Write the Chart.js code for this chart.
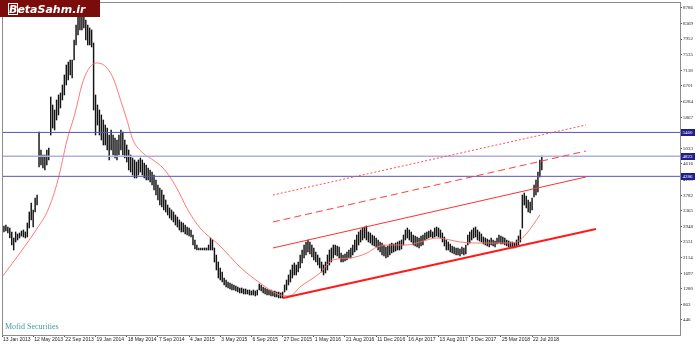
<!DOCTYPE html>
<html><head><meta charset="utf-8">
<script src="https://cdn.jsdelivr.net/npm/chart.js@4.4.0/dist/chart.umd.min.js"></script>
<style>html,body{margin:0;padding:0;background:#fff;overflow:hidden}canvas{display:block}</style>
</head><body>
<canvas id="c" width="700" height="346"></canvas>
<script>
// Weekly bars (index 0 = week of 13 Jan 2013)
const highs = [
2985,2959,2985,2932,2905,2799,2638,2799,2745,2772,2825,2852,2799,3039,3333,3574,3387,3707,3787,
5471,4990,4857,4857,4990,5044,6407,
6193,6059,6327,6461,6514,6728,6995,7262,7343,7396,7396,
7931,8332,8599,8786,8679,8733,8465,8332,8252,8198,
7850,6461,6193,6059,5926,5792,5658,5578,5391,5525,5391,5311,5258,5391,5525,5471,5258,5124,4990,4857,4776,4723,4669,4723,4776,4723,4643,4589,4509,4456,4402,
4322,4188,4055,3974,3921,3787,3654,3520,3440,3387,3333,3253,3199,3119,3066,3039,2985,2932,2905,2852,
2718,2585,2451,2371,2371,2371,2371,2371,2451,2638,2585,
2371,2183,1996,1836,1729,1569,1515,1462,1435,1408,1382,1355,1328,1302,
1302,1275,1275,1248,1248,1221,1248,1221,1248,
1408,1382,1328,1302,1275,1248,1248,1221,1221,1195,1195,1168,1195,
1382,1515,1649,1783,1916,1970,1916,1996,2183,2317,2451,2531,2585,2531,2451,2371,
2264,2183,2103,1996,1916,1996,2183,2317,2371,2451,2451,2424,2397,2237,2183,2210,2264,2317,2371,2451,2585,
2718,2799,2852,2905,2932,2959,2799,2772,2718,2691,2638,2585,2531,2504,2451,2397,2424,2478,2504,2478,2504,2531,2558,2585,
2718,2852,2905,2852,2799,2718,2691,2665,2638,2691,2718,2772,2799,2825,2852,2799,2905,2932,2905,2852,2772,2665,2585,2531,2478,2424,2397,2371,2371,2344,2397,2371,2451,
2718,2799,2852,2905,2932,2852,2799,2745,2665,2638,2611,2585,2638,2585,2558,2638,2718,2691,2665,2638,2585,2558,2531,2531,2504,2585,2691,2852,
3787,3841,3761,3654,3600,3707,4055,4188,4402,4723,4830
];
const lows = [
2451,2799,2825,2772,2638,2451,2317,2531,2585,2638,2691,2665,2638,2665,2905,3119,2932,3333,3520,
4536,4589,4509,4456,4589,4723,5391,
5578,5525,5792,5926,6113,6327,6461,6728,6862,6995,6915,
7396,7797,8064,8198,8198,8252,7931,7797,7797,7744,
6059,5391,5658,5391,5258,5124,5124,4990,4723,4990,4857,4776,4723,4857,4990,4857,4776,4669,4456,4402,4322,4242,4242,4322,4402,4322,4242,4188,4188,4135,4055,
3921,3787,3654,3520,3467,3387,3333,3253,3172,3119,3066,2985,2932,2852,2799,2799,2745,2718,2691,2665,
2451,2344,2317,2317,2317,2317,2317,2317,2317,2317,2317,
1996,1783,1569,1515,1462,1382,1328,1302,1275,1248,1248,1221,1195,1168,
1168,1141,1141,1141,1114,1114,1114,1088,1114,
1248,1221,1168,1141,1114,1114,1088,1088,1061,1061,1034,1034,1034,
1195,1248,1382,1462,1569,1649,1649,1729,1836,1970,2103,2183,2264,2210,2130,2050,
1996,1916,1836,1729,1649,1702,1783,1916,1996,2103,2183,2157,2103,1996,1996,2023,2050,2103,2103,2183,2264,
2317,2451,2531,2585,2638,2585,2531,2504,2451,2424,2397,2317,2264,2183,2157,2103,2130,2183,2237,2264,2290,2317,2317,2344,
2451,2585,2638,2585,2531,2451,2424,2397,2371,2424,2451,2585,2611,2638,2665,2638,2665,2691,2665,2638,2531,2424,2317,2317,2264,2237,2210,2183,2183,2157,2210,2183,2210,
2451,2504,2585,2638,2665,2585,2558,2531,2478,2451,2424,2397,2451,2424,2397,2478,2504,2478,2478,2451,2424,2397,2397,2371,2371,2397,2451,2531,
2905,3520,3440,3333,3306,3387,3734,3787,3868,4268,4456
];
// Moving average read at bar positions
const maIndex = [0,9.2,18.5,23.6,28.7,33.4,37.5,41,44.1,48.7,52.8,57,60.5,64.1,67.2,72.3,77.5,82.6,88.8,95.4,101.6,111.9,122.1,132.4,142.6,147.8,152.9,163.2,169.8,178.6,187.3,192.4,199.1,207.8,214.5,223.2,229.9,235,245.3,259.1,264.2,269.4,276];
const maValues = [1595,2237,2932,3387,4188,5258,5979,6728,7129,7316,7236,6915,6380,5792,5258,4910,4723,4509,4055,3387,2905,2424,1863,1435,1114,1088,1328,1702,2050,2103,2237,2397,2451,2451,2531,2638,2585,2531,2504,2504,2531,2772,3253];
// Channel lines [startBar, startPrice, endBar, endPrice]
const channelBase = [144.2, 1034, 304.8, 2878];
const channelMid = [139, 2371, 299.6, 4268];
const channelDash = [139, 3066, 299.6, 4963];
const channelDot = [139, 3787, 299.6, 5658];
// Horizontal levels
const levelValues = [5460, 4823, 4286];
// Axis ticks
const yTickValues = [446,863,1280,1697,2114,2531,2948,3365,3782,4199,4616,5033,5450,5867,6284,6701,7118,7535,7952,8369,8786];
const dateLabelBars = [0,16,32,48,64,80,96,112,128,144,160,176,192,208,224,240,256,272];
const dateLabels = ['13 Jan 2013','12 May 2013','22 Sep 2013','19 Jan 2014','18 May 2014','7 Sep 2014','4 Jan 2015','3 May 2015','6 Sep 2015','27 Dec 2015','1 May 2016','21 Aug 2016','11 Dec 2016','16 Apr 2017','13 Aug 2017','3 Dec 2017','25 Mar 2018','22 Jul 2018'];

const X_MIN = 0, X_MAX = 347.9;
const bars = highs.map((h, i) => ({x: i, y: [lows[i], h]}));
const ma = maIndex.map((x, k) => ({x, y: maValues[k]}));
const seg = a => [{x: a[0], y: a[1]}, {x: a[2], y: a[3]}];
const lineDs = (data, color, width, dash, order) => ({type: 'line', data, borderColor: color, borderWidth: width, borderDash: dash || [], pointRadius: 0, fill: false, order: order || 1});

const levelColors = ['#5656b0', '#b0b0e0', '#5656b0'];

const decor = {
  id: 'decor',
  beforeDraw(chart) {
    const c = chart.ctx; c.save(); c.fillStyle = '#fff'; c.fillRect(0, 0, chart.width, chart.height); c.restore();
  },
  afterDraw(chart) {
    const c = chart.ctx, a = chart.chartArea, ys = chart.scales.y;
    c.save();
    c.strokeStyle = '#8c8c8c'; c.lineWidth = 1;
    c.beginPath(); c.moveTo(a.left + 0.5, a.bottom); c.lineTo(a.left + 0.5, a.top + 0.5); c.lineTo(a.right, a.top + 0.5); c.stroke();
    levelValues.forEach((v, k) => {
      const py = Math.round(ys.getPixelForValue(v));
      c.fillStyle = '#1e1e8c'; c.fillRect(a.right + 1, py - 3, 14, 7);
      c.fillStyle = '#fff'; c.font = '5px "Liberation Serif"'; c.textBaseline = 'middle'; c.textAlign = 'left';
      c.fillText(String(v), a.right + 2.5, py + 0.5);
    });
    c.fillStyle = '#7b0c0c'; c.fillRect(0, 0, 100, 17);
    c.fillStyle = '#fff'; c.font = 'italic bold 11px "DejaVu Sans"'; c.textBaseline = 'alphabetic'; c.textAlign = 'left';
    c.fillText('BetaSahm.ir', 9, 13);
    c.strokeStyle = '#fff'; c.lineWidth = 1; c.strokeRect(8.5, 3.5, 9, 11);
    c.fillStyle = '#3a9c9c'; c.font = '8px "Liberation Serif"';
    c.fillText('Mofid Securities', 5, 329);
    c.restore();
  }
};

new Chart(document.getElementById('c'), {
  type: 'bar',
  data: {
    datasets: [
      {type: 'bar', data: bars, backgroundColor: '#141414', barThickness: 0.8, grouped: false, order: 10},
      Object.assign(lineDs(ma, '#ff6a6a', 0.9, null, 5), {cubicInterpolationMode: 'monotone'}),
      ...levelValues.map((v, k) => lineDs([{x: X_MIN, y: v}, {x: X_MAX, y: v}], levelColors[k], k === 1 ? 1.5 : 1, null, 4)),
      lineDs(seg(channelBase), '#ff1a1a', 2, null, 2),
      lineDs(seg(channelMid), '#ff3030', 1, null, 2),
      lineDs(seg(channelDash), '#ff4040', 1, [7, 4], 2),
      lineDs(seg(channelDot), '#ff5050', 1, [2, 2], 2)
    ]
  },
  options: {
    responsive: false, animation: false, devicePixelRatio: 1,
    layout: {padding: {left: 2, top: 2, right: 0, bottom: 0}},
    plugins: {legend: {display: false}, tooltip: {enabled: false}},
    scales: {
      x: {
        type: 'linear', min: X_MIN, max: X_MAX, offset: false,
        afterBuildTicks: s => { s.ticks = dateLabelBars.map(v => ({value: v})); },
        afterFit: s => { s.height = 11; s.paddingLeft = 0; s.paddingRight = 0; },
        grid: {drawOnChartArea: false, drawTicks: true, tickLength: 2, color: '#555', offset: false},
        border: {display: true, color: '#8c8c8c'},
        ticks: {autoSkip: false, maxRotation: 0, minRotation: 0, align: 'start', padding: 0, labelOffset: 1,
          font: {family: 'Liberation Sans', size: 5}, color: '#222',
          callback: (v, i) => dateLabels[i]}
      },
      y: {
        position: 'right', min: 45, max: 8946,
        afterBuildTicks: s => { s.ticks = yTickValues.map(v => ({value: v})); },
        afterFit: s => { s.width = 20; s.paddingTop = 0; s.paddingBottom = 0; },
        grid: {drawOnChartArea: false, drawTicks: true, tickLength: 2, color: '#555'},
        border: {display: true, color: '#8c8c8c'},
        ticks: {padding: 1, font: {family: 'Liberation Serif', size: 5}, color: '#222', callback: v => String(v)}
      }
    }
  },
  plugins: [decor]
});
</script>
</body></html>
